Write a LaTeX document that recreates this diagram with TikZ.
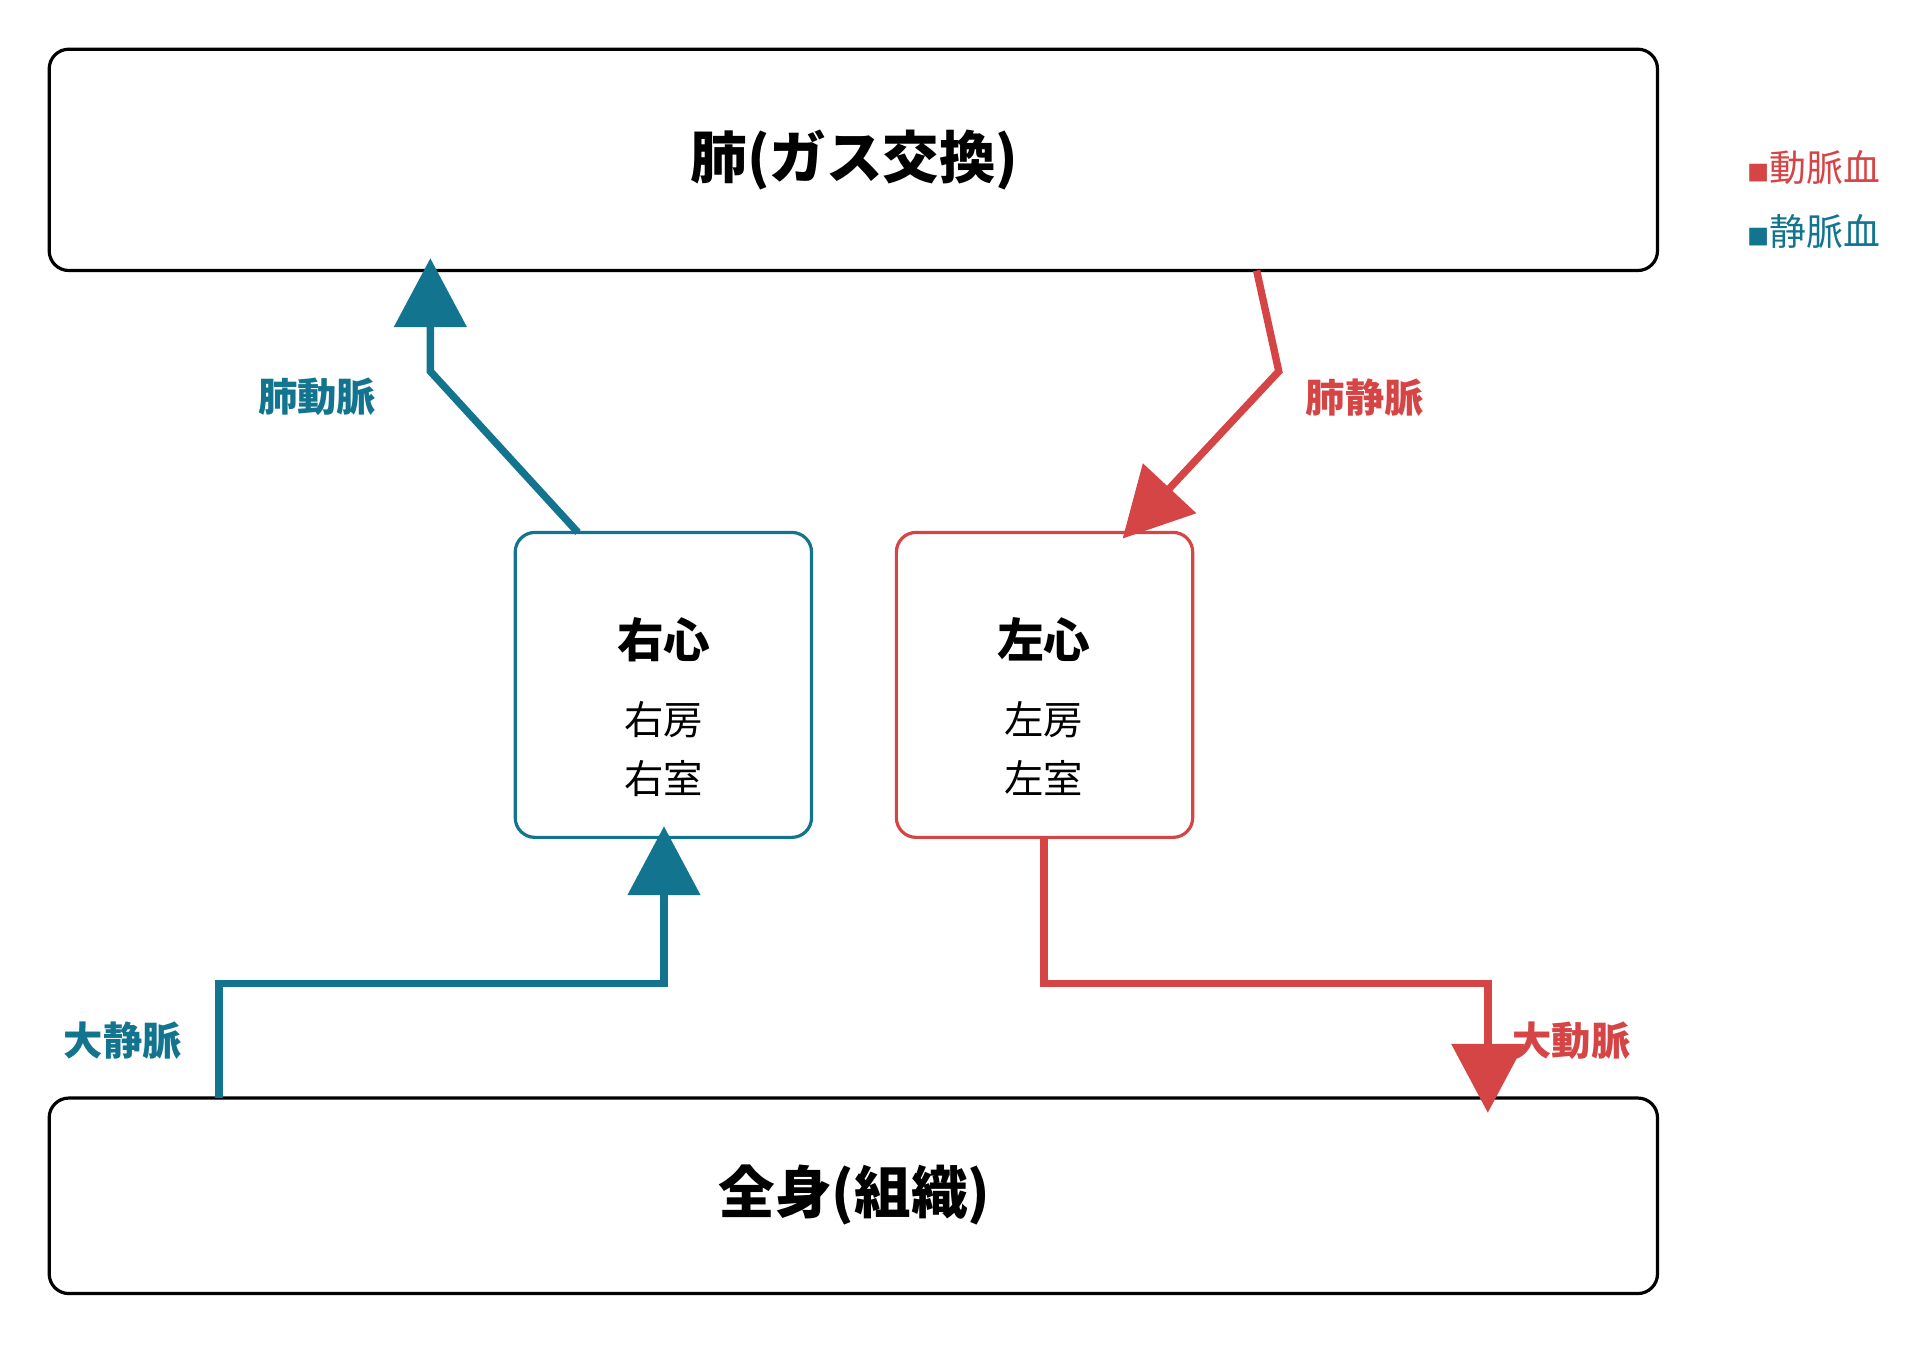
\documentclass[tikz,border=0pt]{standalone}
\usepackage{fontspec}
\setmainfont{Noto Sans CJK JP}
\usetikzlibrary{arrows.meta}
\definecolor{blu}{HTML}{13748F}
\definecolor{rd}{HTML}{D64545}
\begin{document}
\begin{tikzpicture}[x=0.5pt,y=-0.5pt,
 box/.style={draw,line width=1.3pt,rounded corners=8pt},
 heart/.style={line width=1.3pt,rounded corners=8pt},
 flow/.style={line width=3pt,-{Triangle[width=29pt,length=28pt]}},
 lab/.style={font=\fontsize{16}{18}\selectfont\bfseries}]
\useasboundingbox (0,0) rectangle (1568,1094);
\draw[box] (40,40) rectangle (1348,220);
\node[font=\fontsize{23}{26}\selectfont\bfseries] (lung) at (695,130) {肺(ガス交換)};
\draw[box] (40,893) rectangle (1348,1052);
\node[font=\fontsize{23}{26}\selectfont\bfseries] (body) at (695,972) {全身(組織)};
\draw[heart,draw=blu] (419,433) rectangle (660,681);
\draw[heart,draw=rd] (729,433) rectangle (970,681);
\node[font=\fontsize{19}{22}\selectfont\bfseries] (rh) at (540,520) {右心};
\node[font=\fontsize{16}{18}\selectfont] (rh2) at (540,585) {右房};
\node[font=\fontsize{16}{18}\selectfont] (rh3) at (540,633) {右室};
\node[font=\fontsize{19}{22}\selectfont\bfseries] (lh) at (849,520) {左心};
\node[font=\fontsize{16}{18}\selectfont] (lh2) at (849,585) {左房};
\node[font=\fontsize{16}{18}\selectfont] (lh3) at (849,633) {左室};
\coordinate (a1) at (470,433); \coordinate (a2) at (350,210);
\draw[flow,blu] (a1) -- (350,302) -- (a2);
\coordinate (b1) at (1022,220); \coordinate (b2) at (913,438);
\draw[flow,rd] (b1) -- (1040,302) -- (b2);
\coordinate (c1) at (178,893); \coordinate (c2) at (540,672);
\draw[flow,blu] (c1) -- (178,800) -- (540,800) -- (c2);
\coordinate (d1) at (849,681); \coordinate (d2) at (1210,905);
\draw[flow,rd] (d1) -- (849,800) -- (1210,800) -- (d2);
\node[lab,blu] (l1) at (258,323) {肺動脈};
\node[lab,rd] (l2) at (1110,323) {肺静脈};
\node[lab,blu] (l3) at (100,846) {大静脈};
\node[lab,rd] (l4) at (1278,846) {大動脈};
\node[rd,font=\fontsize{15}{17}\selectfont] (g1) at (1475,136) {\fontsize{9}{10}\selectfont■\fontsize{15}{17}\selectfont 動脈血};
\node[blu,font=\fontsize{15}{17}\selectfont] (g2) at (1475,188) {\fontsize{9}{10}\selectfont■\fontsize{15}{17}\selectfont 静脈血};
\end{tikzpicture}
\end{document}
